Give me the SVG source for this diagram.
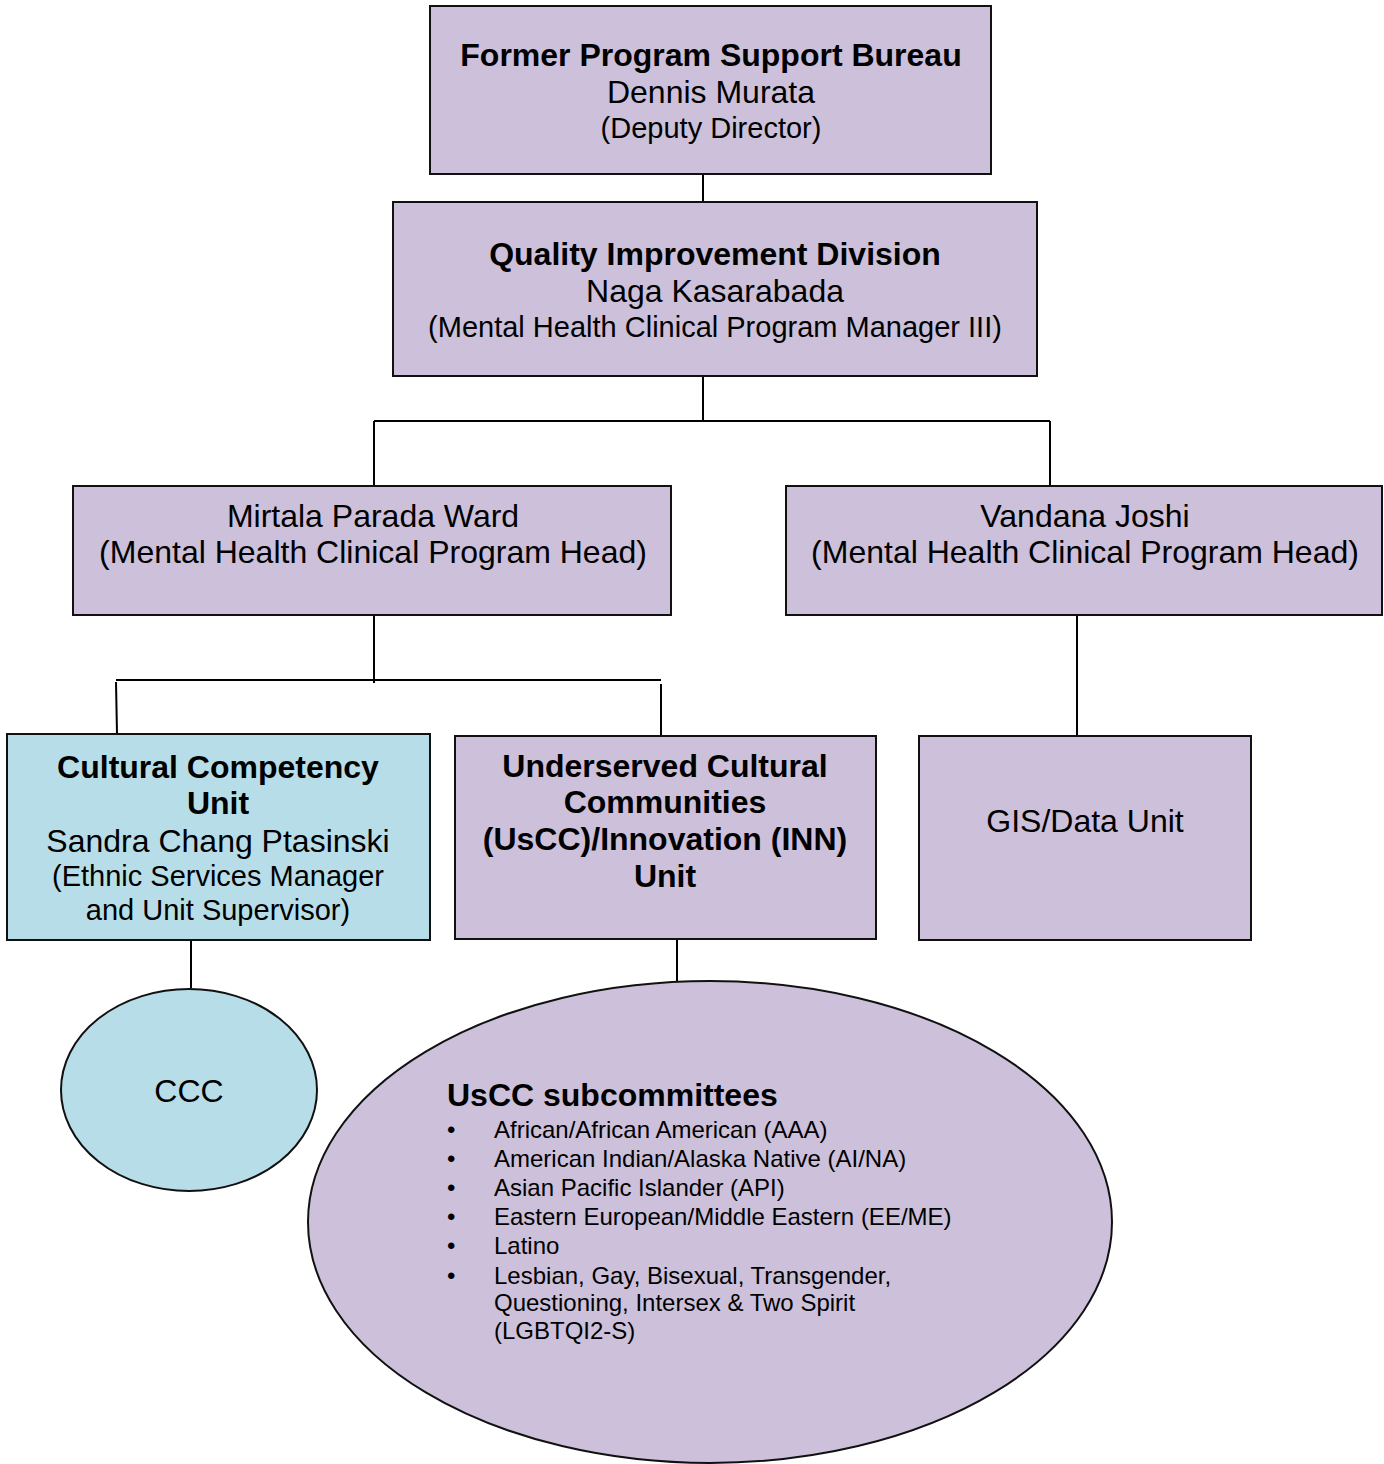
<svg xmlns="http://www.w3.org/2000/svg" width="1384" height="1464" viewBox="0 0 1384 1464">
<style>
.p{fill:#CCC0DA;stroke:#111;stroke-width:2}
.b{fill:#B7DEE8;stroke:#111;stroke-width:2}
.c{stroke:#000;stroke-width:2;fill:none}
text{font-family:"Liberation Sans",Arial,sans-serif;fill:#000}
.t{font-size:32px;font-weight:bold;text-anchor:middle}
.n{font-size:32px;text-anchor:middle}
.r{font-size:29px;text-anchor:middle}
.h{font-size:32px;font-weight:bold}
.i{font-size:24px}
</style>
<rect width="1384" height="1464" fill="#fff"/>
<g id="connectors">
<path class="c" d="M703,174V202"/>
<path class="c" d="M703,376V421M374,421H1050M374,421V486M1050,421V486"/>
<path class="c" d="M374,615V683M116,680H661M116,682L117,734M661,684V740"/>
<path class="c" d="M1077,615V740"/>
<path class="c" d="M191,940V988"/>
<path class="c" d="M677,939V981"/>
</g>
<g id="n1"><rect class="p" x="430" y="6" width="561" height="168"/>
<text class="t" x="711" y="66">Former Program Support Bureau</text>
<text class="n" x="711" y="103">Dennis Murata</text>
<text class="r" x="711" y="138">(Deputy Director)</text></g>
<g id="n2"><rect class="p" x="393" y="202" width="644" height="174"/>
<text class="t" x="715" y="265">Quality Improvement Division</text>
<text class="n" x="715" y="302">Naga Kasarabada</text>
<text class="r" x="715" y="337">(Mental Health Clinical Program Manager III)</text></g>
<g id="n3"><rect class="p" x="73" y="486" width="598" height="129"/>
<text class="n" x="373" y="527">Mirtala Parada Ward</text>
<text class="n" x="373" y="563">(Mental Health Clinical Program Head)</text></g>
<g id="n4"><rect class="p" x="786" y="486" width="596" height="129"/>
<text class="n" x="1085" y="527">Vandana Joshi</text>
<text class="n" x="1085" y="563">(Mental Health Clinical Program Head)</text></g>
<g id="n5"><rect class="b" x="7" y="734" width="423" height="206"/>
<text class="t" x="218" y="778">Cultural Competency</text>
<text class="t" x="218" y="814">Unit</text>
<text class="n" x="218" y="852">Sandra Chang Ptasinski</text>
<text class="r" x="218" y="886">(Ethnic Services Manager</text>
<text class="r" x="218" y="920">and Unit Supervisor)</text></g>
<g id="n6"><rect class="p" x="455" y="736" width="421" height="203"/>
<text class="t" x="665" y="777">Underserved Cultural</text>
<text class="t" x="665" y="813">Communities</text>
<text class="t" x="665" y="850">(UsCC)/Innovation (INN)</text>
<text class="t" x="665" y="887">Unit</text></g>
<g id="n7"><rect class="p" x="919" y="736" width="332" height="204"/>
<text class="n" x="1085" y="832">GIS/Data Unit</text></g>
<g id="n8"><ellipse class="b" cx="189" cy="1090" rx="128" ry="101"/>
<text class="n" x="189" y="1102">CCC</text></g>
<g id="n9"><ellipse class="p" cx="710" cy="1222" rx="402" ry="241"/>
<text class="h" x="447" y="1106">UsCC subcommittees</text>
<g class="i">
<text x="447" y="1138">•</text><text x="494" y="1138">African/African American (AAA)</text>
<text x="447" y="1167">•</text><text x="494" y="1167">American Indian/Alaska Native (AI/NA)</text>
<text x="447" y="1196">•</text><text x="494" y="1196">Asian Pacific Islander (API)</text>
<text x="447" y="1225">•</text><text x="494" y="1225">Eastern European/Middle Eastern (EE/ME)</text>
<text x="447" y="1254">•</text><text x="494" y="1254">Latino</text>
<text x="447" y="1284">•</text><text x="494" y="1284">Lesbian, Gay, Bisexual, Transgender,</text>
<text x="494" y="1311">Questioning, Intersex &amp; Two Spirit</text>
<text x="494" y="1339">(LGBTQI2-S)</text>
</g></g>
</svg>
